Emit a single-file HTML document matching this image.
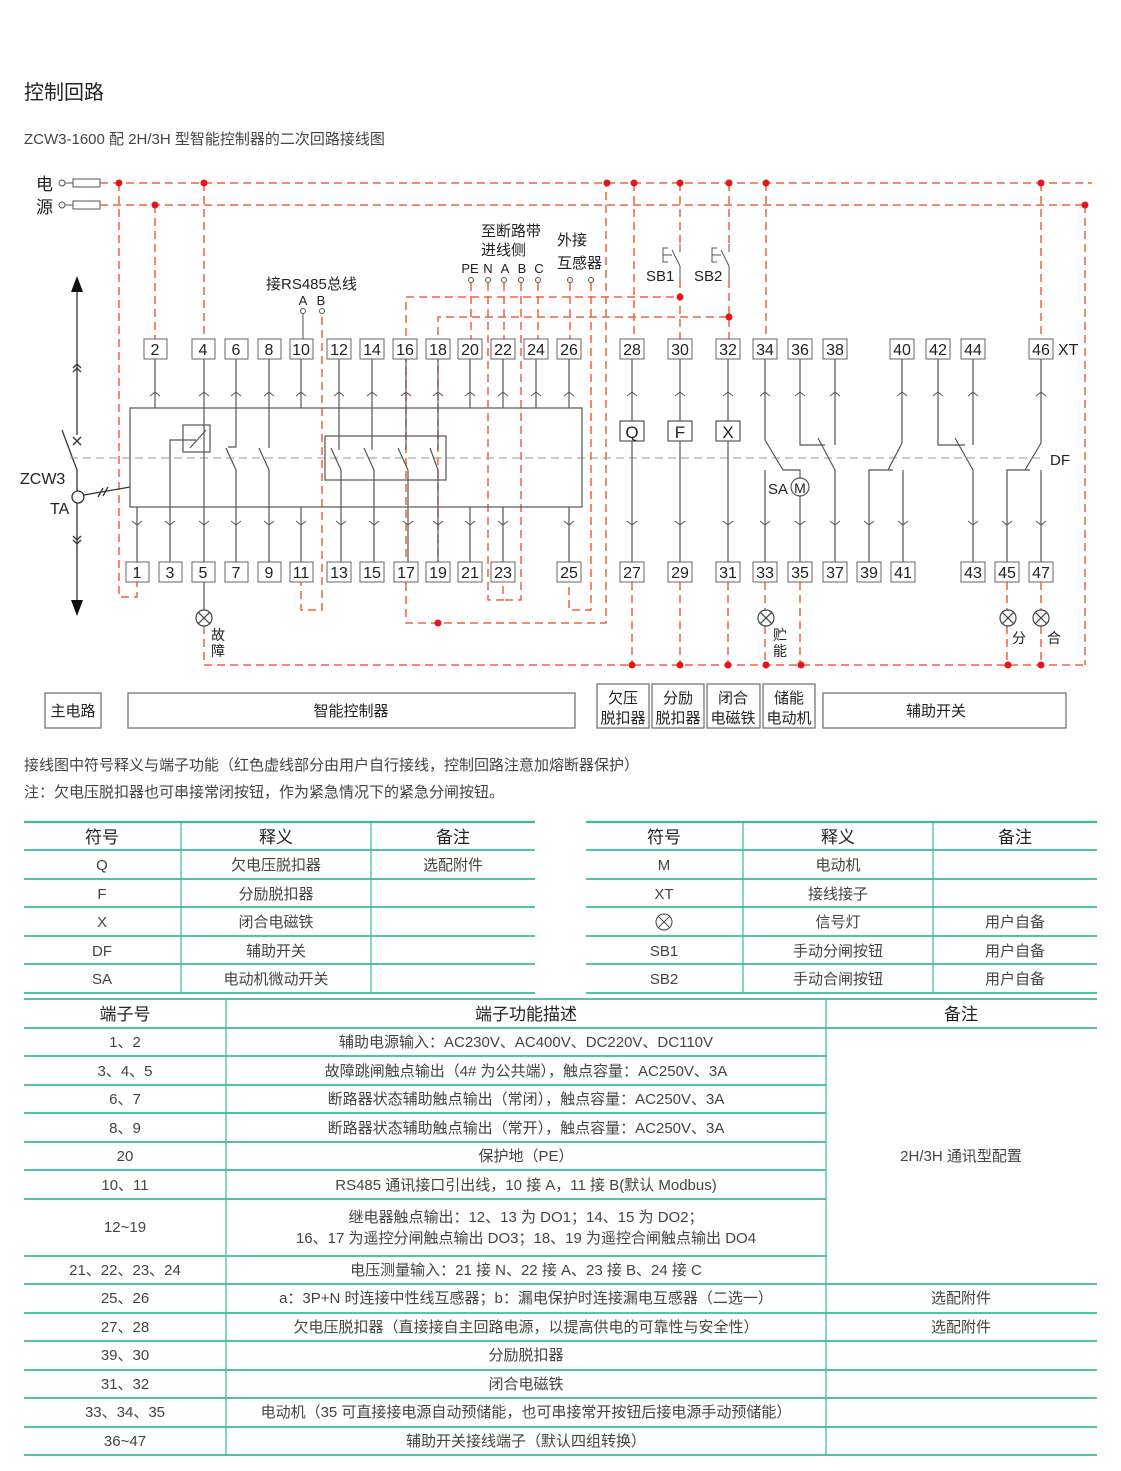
<!DOCTYPE html>
<html><head><meta charset="utf-8"><style>
html,body{margin:0;padding:0;background:#fff}
svg{display:block}
text{font-family:"Liberation Sans","Noto Sans CJK SC",sans-serif}
</style></head><body>
<svg width="1121" height="1471" viewBox="0 0 1121 1471" xmlns="http://www.w3.org/2000/svg">
<rect width="1121" height="1471" fill="#fff"/>
<text x="24" y="99" font-size="20" fill="#222">控制回路</text>
<text x="24" y="144" font-size="15" fill="#444">ZCW3-1600 配 2H/3H 型智能控制器的二次回路接线图</text>

<text x="36" y="190" font-size="17" fill="#222">电</text>
<text x="36" y="213" font-size="17" fill="#222">源</text>
<g stroke="#555" fill="none" stroke-width="1">
<circle cx="62" cy="183" r="3"/><circle cx="62" cy="205" r="3"/>
<line x1="65" y1="183" x2="73" y2="183"/><line x1="65" y1="205" x2="73" y2="205"/>
<rect x="73" y="179" width="27" height="8"/><rect x="73" y="201" width="27" height="8"/>
</g>

<g stroke="#f0643c" stroke-width="1.5" fill="none" stroke-dasharray="8,5">
<line x1="100" y1="183" x2="1092" y2="183"/>
<line x1="100" y1="205" x2="1087" y2="205"/>
<polyline points="119,183 119,597 137,597 137,582"/>
<line x1="155" y1="205" x2="155" y2="339"/>
<line x1="204" y1="183" x2="204" y2="339"/>
<polyline points="322,317 322,610 301,610 301,582"/>
<polyline points="406,583 406,297 680,297"/>
<polyline points="406,583 406,623 606,623 606,183"/>
<polyline points="438,582 438,317 729,317"/>
<line x1="471" y1="283" x2="471" y2="339"/>
<polyline points="488,283 488,600 503,600 503,582"/>
<line x1="504" y1="283" x2="504" y2="339"/>
<polyline points="521,283 521,600 503,600"/>
<line x1="538" y1="283" x2="538" y2="339"/>
<line x1="570" y1="283" x2="570" y2="339"/>
<polyline points="591,283 591,610 569,610 569,582"/>
<line x1="634" y1="183" x2="634" y2="339"/>
<line x1="632" y1="582" x2="632" y2="665"/>
<line x1="680" y1="183" x2="680" y2="244"/>
<line x1="680" y1="280" x2="680" y2="339"/>
<line x1="680" y1="582" x2="680" y2="665"/>
<line x1="729" y1="183" x2="729" y2="244"/>
<line x1="729" y1="280" x2="729" y2="339"/>
<line x1="728" y1="582" x2="728" y2="665"/>
<line x1="766" y1="183" x2="766" y2="339"/>
<line x1="765" y1="582" x2="765" y2="610"/>
<line x1="765" y1="626" x2="765" y2="665"/>
<line x1="800" y1="582" x2="800" y2="665"/>
<line x1="1041" y1="183" x2="1041" y2="339"/>
<line x1="1007" y1="582" x2="1007" y2="610"/>
<line x1="1041" y1="582" x2="1041" y2="610"/>
<line x1="1085" y1="205" x2="1085" y2="665"/>
<line x1="204" y1="626" x2="204" y2="665"/>
<line x1="204" y1="665" x2="1085" y2="665"/>
<line x1="1007" y1="626" x2="1007" y2="665"/>
<line x1="1041" y1="626" x2="1041" y2="665"/>
</g>
<g fill="#e8141b">
<circle cx="119" cy="183" r="3.5"/><circle cx="204" cy="183" r="3.5"/><circle cx="607" cy="183" r="3.5"/>
<circle cx="634" cy="183" r="3.5"/><circle cx="680" cy="183" r="3.5"/><circle cx="729" cy="183" r="3.5"/>
<circle cx="766" cy="183" r="3.5"/><circle cx="1041" cy="183" r="3.5"/>
<circle cx="155" cy="205" r="3.5"/><circle cx="1085" cy="205" r="3.5"/>
<circle cx="680" cy="297" r="3.5"/><circle cx="729" cy="317" r="3.5"/><circle cx="438" cy="623" r="3.5"/>
<circle cx="632" cy="665" r="3.5"/><circle cx="680" cy="665" r="3.5"/><circle cx="728" cy="665" r="3.5"/>
<circle cx="766" cy="665" r="3.5"/><circle cx="801" cy="665" r="3.5"/><circle cx="1008" cy="665" r="3.5"/><circle cx="1041" cy="665" r="3.5"/>
</g>

<g font-size="15" fill="#222">
<text x="481" y="236">至断路带</text><text x="481" y="255">进线侧</text>
<text x="557" y="245">外接</text><text x="557" y="268">互感器</text>
<text x="266" y="289">接RS485总线</text>
<text x="646" y="281">SB1</text><text x="694" y="281">SB2</text>
</g>
<g font-size="13" fill="#222" text-anchor="middle">
<text x="470" y="273">PE</text><text x="488" y="273">N</text><text x="505" y="273">A</text><text x="522" y="273">B</text><text x="539" y="273">C</text>
<text x="303" y="305">A</text><text x="321" y="305">B</text>
</g>
<g stroke="#555" fill="#fff" stroke-width="1">
<circle cx="471" cy="280" r="2.5"/><circle cx="488" cy="280" r="2.5"/><circle cx="504" cy="280" r="2.5"/><circle cx="521" cy="280" r="2.5"/><circle cx="538" cy="280" r="2.5"/>
<circle cx="570" cy="280" r="2.5"/><circle cx="591" cy="280" r="2.5"/>
<circle cx="303" cy="311" r="2.5"/><circle cx="322" cy="311" r="2.5"/>
</g>
<g stroke="#555" fill="none" stroke-width="1">
<line x1="303" y1="314" x2="303" y2="339"/>
<polyline points="668,248 663,248 663,262 668,262"/><line x1="663" y1="255" x2="672" y2="255"/><line x1="672" y1="250" x2="680" y2="266"/>
<line x1="680" y1="244" x2="680" y2="252"/><line x1="680" y1="266" x2="680" y2="280"/>
<polyline points="717,248 712,248 712,262 717,262"/><line x1="712" y1="255" x2="721" y2="255"/><line x1="721" y1="250" x2="729" y2="266"/>
<line x1="729" y1="244" x2="729" y2="252"/><line x1="729" y1="266" x2="729" y2="280"/>
</g>

<g stroke="#333" fill="none" stroke-width="1.3">
<line x1="77" y1="290" x2="77" y2="435"/>
<line x1="77" y1="470" x2="77" y2="604"/>
<line x1="62" y1="430" x2="77" y2="470"/>
<line x1="73" y1="437" x2="81" y2="445"/><line x1="81" y1="437" x2="73" y2="445"/>
<polyline points="73,368 77,364 81,368"/><polyline points="73,372 77,368 81,372"/>
<polyline points="73,536 77,540 81,536"/><polyline points="73,540 77,544 81,540"/>
<circle cx="78" cy="497" r="6" fill="#fff"/>
<line x1="84" y1="495" x2="130" y2="487"/>
<line x1="98" y1="497" x2="103" y2="488"/><line x1="103" y1="496" x2="108" y2="487"/>
</g>
<polygon points="77,276 71,292 83,292" fill="#111"/>
<polygon points="77,616 71,600 83,600" fill="#111"/>
<text x="20" y="484" font-size="16" fill="#222">ZCW3</text>
<text x="50" y="514" font-size="16" fill="#222">TA</text>

<line x1="70" y1="458" x2="1045" y2="458" stroke="#999" stroke-width="1" stroke-dasharray="8,5"/>

<g stroke="#555" fill="none" stroke-width="1.2">
<rect x="130" y="408" width="452" height="99"/>
<rect x="325" y="436" width="121" height="44"/>
<rect x="183" y="425" width="27" height="27"/>
<line x1="190" y1="448" x2="206" y2="430"/>
<line x1="155" y1="359" x2="155" y2="408"/>
<line x1="301" y1="359" x2="301" y2="408"/>
<line x1="470" y1="359" x2="470" y2="408"/>
<line x1="503" y1="359" x2="503" y2="408"/>
<line x1="536" y1="359" x2="536" y2="408"/>
<line x1="569" y1="359" x2="569" y2="408"/>
<line x1="204" y1="359" x2="204" y2="562"/>
<polyline points="170,562 170,440 196,440"/>
<polyline points="236,359 236,447 228,447"/><line x1="226" y1="448" x2="236" y2="470"/><line x1="236" y1="470" x2="236" y2="562"/>
<line x1="269" y1="359" x2="269" y2="448"/><line x1="259" y1="448" x2="269" y2="470"/><line x1="269" y1="470" x2="269" y2="562"/>
<line x1="339" y1="359" x2="339" y2="450"/><line x1="331" y1="448" x2="341" y2="470"/><line x1="341" y1="470" x2="341" y2="562"/>
<line x1="372" y1="359" x2="372" y2="450"/><line x1="364" y1="448" x2="374" y2="470"/><line x1="374" y1="470" x2="374" y2="562"/>
<line x1="406" y1="359" x2="406" y2="450"/><line x1="398" y1="448" x2="408" y2="470"/><line x1="408" y1="470" x2="408" y2="562"/>
<line x1="438" y1="359" x2="438" y2="450"/><line x1="430" y1="448" x2="438" y2="470"/><line x1="438" y1="470" x2="438" y2="562"/>
<line x1="137" y1="507" x2="137" y2="562"/>
<line x1="301" y1="507" x2="301" y2="562"/>
<line x1="470" y1="507" x2="470" y2="562"/>
<line x1="503" y1="507" x2="503" y2="562"/>
<line x1="569" y1="507" x2="569" y2="562"/>
<line x1="632" y1="359" x2="632" y2="562"/>
<line x1="680" y1="359" x2="680" y2="562"/>
<line x1="728" y1="359" x2="728" y2="562"/>
<polyline points="765,359 765,440 783,470 800,470 800,478"/>
<line x1="800" y1="496" x2="800" y2="562"/>
<line x1="765" y1="470" x2="765" y2="562"/>
<polyline points="800,359 800,445 825,445"/><line x1="818" y1="438" x2="835" y2="470"/><line x1="835" y1="470" x2="835" y2="562"/>
<line x1="835" y1="359" x2="835" y2="445"/>
<polyline points="902,359 902,443 888,470"/><polyline points="893,470 869,470 869,562"/><line x1="903" y1="470" x2="903" y2="562"/>
<polyline points="938,359 938,445 965,445"/><line x1="955" y1="438" x2="973" y2="470"/><line x1="973" y1="470" x2="973" y2="562"/>
<line x1="973" y1="359" x2="973" y2="445"/>
<polyline points="1041,359 1041,443 1025,470"/><polyline points="1030,470 1007,470 1007,562"/><line x1="1041" y1="470" x2="1041" y2="562"/>
<circle cx="800" cy="487" r="9" fill="#fff"/>
<line x1="204" y1="582" x2="204" y2="610"/>
</g>
<g stroke="#555" fill="#fff" stroke-width="1.2">
<rect x="620" y="421" width="24" height="20"/><rect x="668" y="421" width="24" height="20"/><rect x="716" y="421" width="24" height="20"/>
</g>
<g font-size="17" fill="#222" text-anchor="middle">
<text x="632" y="438">Q</text><text x="680" y="438">F</text><text x="728" y="438">X</text>
<text x="800" y="493" font-size="14">M</text>
</g>
<text x="768" y="494" font-size="15" fill="#222">SA</text>
<text x="1050" y="465" font-size="15" fill="#222">DF</text>
<text x="1058" y="355" font-size="16" fill="#222">XT</text>

<g stroke="#555" fill="none" stroke-width="1">
<path d="M150 396l5-4 5 4M199 396l5-4 5 4M231 396l5-4 5 4M264 396l5-4 5 4M296 396l5-4 5 4M334 396l5-4 5 4M367 396l5-4 5 4M401 396l5-4 5 4M433 396l5-4 5 4M465 396l5-4 5 4M498 396l5-4 5 4M531 396l5-4 5 4M564 396l5-4 5 4M627 396l5-4 5 4M675 396l5-4 5 4M723 396l5-4 5 4M760 396l5-4 5 4M795 396l5-4 5 4M830 396l5-4 5 4M897 396l5-4 5 4M933 396l5-4 5 4M968 396l5-4 5 4M1036 396l5-4 5 4"/>
<path d="M132 521l5 4 5-4M165 521l5 4 5-4M199 521l5 4 5-4M231 521l5 4 5-4M264 521l5 4 5-4M296 521l5 4 5-4M336 521l5 4 5-4M369 521l5 4 5-4M403 521l5 4 5-4M433 521l5 4 5-4M465 521l5 4 5-4M498 521l5 4 5-4M564 521l5 4 5-4M627 521l5 4 5-4M675 521l5 4 5-4M723 521l5 4 5-4M760 521l5 4 5-4M795 521l5 4 5-4M830 521l5 4 5-4M864 521l5 4 5-4M898 521l5 4 5-4M968 521l5 4 5-4M1002 521l5 4 5-4M1036 521l5 4 5-4"/>
</g>

<g stroke="#666" fill="#fff" stroke-width="1">
<rect x="144" y="339" width="23" height="20"/><rect x="192" y="339" width="23" height="20"/><rect x="225" y="339" width="23" height="20"/><rect x="258" y="339" width="23" height="20"/><rect x="290" y="339" width="23" height="20"/><rect x="327" y="339" width="24" height="20"/><rect x="360" y="339" width="24" height="20"/><rect x="393" y="339" width="24" height="20"/><rect x="426" y="339" width="24" height="20"/><rect x="458" y="339" width="24" height="20"/><rect x="491" y="339" width="24" height="20"/><rect x="524" y="339" width="24" height="20"/><rect x="557" y="339" width="24" height="20"/><rect x="620" y="339" width="24" height="20"/><rect x="668" y="339" width="24" height="20"/><rect x="716" y="339" width="24" height="20"/><rect x="753" y="339" width="24" height="20"/><rect x="788" y="339" width="24" height="20"/><rect x="823" y="339" width="24" height="20"/><rect x="890" y="339" width="24" height="20"/><rect x="926" y="339" width="24" height="20"/><rect x="961" y="339" width="24" height="20"/><rect x="1029" y="339" width="24" height="20"/>
<rect x="126" y="562" width="23" height="20"/><rect x="159" y="562" width="23" height="20"/><rect x="192" y="562" width="23" height="20"/><rect x="225" y="562" width="23" height="20"/><rect x="258" y="562" width="23" height="20"/><rect x="290" y="562" width="23" height="20"/><rect x="327" y="562" width="24" height="20"/><rect x="360" y="562" width="24" height="20"/><rect x="394" y="562" width="24" height="20"/><rect x="426" y="562" width="24" height="20"/><rect x="458" y="562" width="24" height="20"/><rect x="491" y="562" width="24" height="20"/><rect x="557" y="562" width="24" height="20"/><rect x="620" y="562" width="24" height="20"/><rect x="668" y="562" width="24" height="20"/><rect x="716" y="562" width="24" height="20"/><rect x="753" y="562" width="24" height="20"/><rect x="788" y="562" width="24" height="20"/><rect x="823" y="562" width="24" height="20"/><rect x="857" y="562" width="24" height="20"/><rect x="891" y="562" width="24" height="20"/><rect x="961" y="562" width="24" height="20"/><rect x="995" y="562" width="24" height="20"/><rect x="1029" y="562" width="24" height="20"/>
</g>
<g font-size="16" fill="#222" text-anchor="middle">
<text x="155" y="355">2</text><text x="203" y="355">4</text><text x="236" y="355">6</text><text x="269" y="355">8</text><text x="301" y="355">10</text><text x="339" y="355">12</text><text x="372" y="355">14</text><text x="405" y="355">16</text><text x="438" y="355">18</text><text x="470" y="355">20</text><text x="503" y="355">22</text><text x="536" y="355">24</text><text x="569" y="355">26</text><text x="632" y="355">28</text><text x="680" y="355">30</text><text x="728" y="355">32</text><text x="765" y="355">34</text><text x="800" y="355">36</text><text x="835" y="355">38</text><text x="902" y="355">40</text><text x="938" y="355">42</text><text x="973" y="355">44</text><text x="1041" y="355">46</text>
<text x="137" y="578">1</text><text x="170" y="578">3</text><text x="203" y="578">5</text><text x="236" y="578">7</text><text x="269" y="578">9</text><text x="301" y="578">11</text><text x="339" y="578">13</text><text x="372" y="578">15</text><text x="406" y="578">17</text><text x="438" y="578">19</text><text x="470" y="578">21</text><text x="503" y="578">23</text><text x="569" y="578">25</text><text x="632" y="578">27</text><text x="680" y="578">29</text><text x="728" y="578">31</text><text x="765" y="578">33</text><text x="800" y="578">35</text><text x="835" y="578">37</text><text x="869" y="578">39</text><text x="903" y="578">41</text><text x="973" y="578">43</text><text x="1007" y="578">45</text><text x="1041" y="578">47</text>
</g>

<g stroke="#444" fill="#fff" stroke-width="1.2">
<circle cx="204" cy="618" r="8"/><path d="M198.3 612.3l11.4 11.4M209.7 612.3l-11.4 11.4"/>
<circle cx="766" cy="618" r="8"/><path d="M760.3 612.3l11.4 11.4M771.7 612.3l-11.4 11.4"/>
<circle cx="1008" cy="618" r="8"/><path d="M1002.3 612.3l11.4 11.4M1013.7 612.3l-11.4 11.4"/>
<circle cx="1041" cy="618" r="8"/><path d="M1035.3 612.3l11.4 11.4M1046.7 612.3l-11.4 11.4"/>
</g>
<g font-size="14" fill="#222">
<text x="211" y="640">故</text><text x="211" y="656">障</text>
<text x="773" y="640">贮</text><text x="773" y="656">能</text>
<text x="1012" y="643">分</text><text x="1047" y="643">合</text>
</g>

<g stroke="#777" fill="none" stroke-width="1.3">
<rect x="45" y="693" width="56" height="35"/>
<rect x="128" y="693" width="447" height="35"/>
<rect x="597" y="684" width="52" height="44"/>
<rect x="652" y="684" width="52" height="44"/>
<rect x="707" y="684" width="53" height="44"/>
<rect x="763" y="684" width="52" height="44"/>
<rect x="823" y="693" width="243" height="35"/>
</g>
<g font-size="15" fill="#222" text-anchor="middle">
<text x="73" y="716">主电路</text>
<text x="351" y="716">智能控制器</text>
<text x="623" y="703">欠压</text><text x="623" y="723">脱扣器</text>
<text x="678" y="703">分励</text><text x="678" y="723">脱扣器</text>
<text x="733" y="703">闭合</text><text x="733" y="723">电磁铁</text>
<text x="789" y="703">储能</text><text x="789" y="723">电动机</text>
<text x="936" y="716">辅助开关</text>
</g>

<g font-size="15" fill="#444">
<text x="24" y="770">接线图中符号释义与端子功能（红色虚线部分由用户自行接线，控制回路注意加熔断器保护）</text>
<text x="24" y="797">注：欠电压脱扣器也可串接常闭按钮，作为紧急情况下的紧急分闸按钮。</text>
</g>

<g stroke="#3cb89b" fill="none">
<g stroke-width="2.2">
<line x1="24" y1="822" x2="535" y2="822"/><line x1="586" y1="822" x2="1097" y2="822"/>
</g>
<g stroke-width="1.8">
<line x1="24" y1="850" x2="535" y2="850"/><line x1="24" y1="879" x2="535" y2="879"/><line x1="24" y1="907" x2="535" y2="907"/><line x1="24" y1="936" x2="535" y2="936"/><line x1="24" y1="964" x2="535" y2="964"/><line x1="24" y1="993" x2="535" y2="993"/>
<line x1="586" y1="850" x2="1097" y2="850"/><line x1="586" y1="879" x2="1097" y2="879"/><line x1="586" y1="907" x2="1097" y2="907"/><line x1="586" y1="936" x2="1097" y2="936"/><line x1="586" y1="964" x2="1097" y2="964"/><line x1="586" y1="993" x2="1097" y2="993"/>
<line x1="24" y1="999" x2="1097" y2="999"/><line x1="24" y1="1028" x2="1097" y2="1028"/>
<line x1="24" y1="1056" x2="826" y2="1056"/><line x1="24" y1="1085" x2="826" y2="1085"/><line x1="24" y1="1113" x2="826" y2="1113"/><line x1="24" y1="1142" x2="826" y2="1142"/><line x1="24" y1="1170" x2="826" y2="1170"/><line x1="24" y1="1199" x2="826" y2="1199"/><line x1="24" y1="1256" x2="826" y2="1256"/>
<line x1="24" y1="1284" x2="1097" y2="1284"/><line x1="24" y1="1313" x2="1097" y2="1313"/><line x1="24" y1="1341" x2="1097" y2="1341"/><line x1="24" y1="1370" x2="1097" y2="1370"/><line x1="24" y1="1398" x2="1097" y2="1398"/><line x1="24" y1="1427" x2="1097" y2="1427"/><line x1="24" y1="1455" x2="1097" y2="1455"/>
</g>
<g stroke-width="1.2">
<line x1="181" y1="822" x2="181" y2="993"/><line x1="371" y1="822" x2="371" y2="993"/>
<line x1="743" y1="822" x2="743" y2="993"/><line x1="933" y1="822" x2="933" y2="993"/>
<line x1="226" y1="999" x2="226" y2="1455"/><line x1="826" y1="999" x2="826" y2="1455"/>
</g>
</g>
<g font-size="17" fill="#222" text-anchor="middle">
<text x="102" y="843">符号</text><text x="276" y="843">释义</text><text x="453" y="843">备注</text>
<text x="664" y="843">符号</text><text x="838" y="843">释义</text><text x="1015" y="843">备注</text>
<text x="125" y="1020">端子号</text><text x="526" y="1020">端子功能描述</text><text x="961" y="1020">备注</text>
</g>
<g font-size="15" fill="#444" text-anchor="middle">
<text x="102" y="870">Q</text><text x="276" y="870">欠电压脱扣器</text><text x="453" y="870">选配附件</text>
<text x="102" y="899">F</text><text x="276" y="899">分励脱扣器</text>
<text x="102" y="927">X</text><text x="276" y="927">闭合电磁铁</text>
<text x="102" y="956">DF</text><text x="276" y="956">辅助开关</text>
<text x="102" y="984">SA</text><text x="276" y="984">电动机微动开关</text>
<text x="664" y="870">M</text><text x="838" y="870">电动机</text>
<text x="664" y="899">XT</text><text x="838" y="899">接线接子</text>
<text x="838" y="927">信号灯</text><text x="1015" y="927">用户自备</text>
<text x="664" y="956">SB1</text><text x="838" y="956">手动分闸按钮</text><text x="1015" y="956">用户自备</text>
<text x="664" y="984">SB2</text><text x="838" y="984">手动合闸按钮</text><text x="1015" y="984">用户自备</text>
<text x="125" y="1047">1、2</text><text x="526" y="1047">辅助电源输入：AC230V、AC400V、DC220V、DC110V</text>
<text x="125" y="1076">3、4、5</text><text x="526" y="1076">故障跳闸触点输出（4# 为公共端），触点容量：AC250V、3A</text>
<text x="125" y="1104">6、7</text><text x="526" y="1104">断路器状态辅助触点输出（常闭），触点容量：AC250V、3A</text>
<text x="125" y="1133">8、9</text><text x="526" y="1133">断路器状态辅助触点输出（常开），触点容量：AC250V、3A</text>
<text x="125" y="1161">20</text><text x="526" y="1161">保护地（PE）</text>
<text x="125" y="1190">10、11</text><text x="526" y="1190">RS485 通讯接口引出线，10 接 A，11 接 B(默认 Modbus)</text>
<text x="125" y="1232">12~19</text><text x="526" y="1222">继电器触点输出：12、13 为 DO1；14、15 为 DO2；</text><text x="526" y="1243">16、17 为遥控分闸触点输出 DO3；18、19 为遥控合闸触点输出 DO4</text>
<text x="125" y="1275">21、22、23、24</text><text x="526" y="1275">电压测量输入：21 接 N、22 接 A、23 接 B、24 接 C</text>
<text x="125" y="1303">25、26</text><text x="526" y="1303">a：3P+N 时连接中性线互感器；b：漏电保护时连接漏电互感器（二选一）</text><text x="961" y="1303">选配附件</text>
<text x="125" y="1332">27、28</text><text x="526" y="1332">欠电压脱扣器（直接接自主回路电源，以提高供电的可靠性与安全性）</text><text x="961" y="1332">选配附件</text>
<text x="125" y="1360">39、30</text><text x="526" y="1360">分励脱扣器</text>
<text x="125" y="1389">31、32</text><text x="526" y="1389">闭合电磁铁</text>
<text x="125" y="1417">33、34、35</text><text x="526" y="1417">电动机（35 可直接接电源自动预储能，也可串接常开按钮后接电源手动预储能）</text>
<text x="125" y="1446">36~47</text><text x="526" y="1446">辅助开关接线端子（默认四组转换）</text>
<text x="961" y="1161">2H/3H 通讯型配置</text>
</g>
<g stroke="#444" fill="none" stroke-width="1">
<circle cx="664" cy="922" r="8"/><path d="M658.3 916.3l11.4 11.4M669.7 916.3l-11.4 11.4"/>
</g>
</svg>
</body></html>
